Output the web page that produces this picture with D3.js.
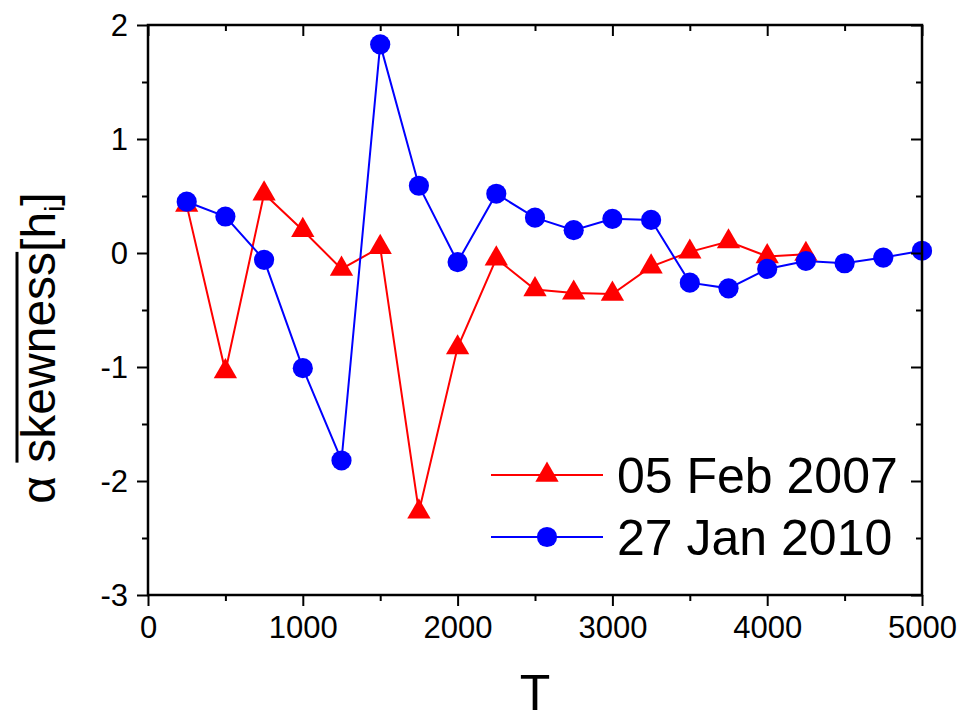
<!DOCTYPE html>
<html>
<head>
<meta charset="utf-8">
<script src="https://cdn.jsdelivr.net/npm/d3@7"></script>
<style>
  html, body { margin: 0; padding: 0; background: #fff; }
  svg { display: block; }
  text { font-family: "Liberation Sans", Arial, Helvetica, sans-serif; fill: #000; }
</style>
</head>
<body>
<svg id="chart" width="963" height="724"></svg>
<script>
// ---- data ----
const T2007 = [250, 500, 750, 1000, 1250, 1500, 1750, 2000, 2250, 2500, 2750, 3000, 3250, 3500, 3750, 4000, 4250];
const skew2007 = [0.42, -1.04, 0.52, 0.20, -0.14, 0.05, -2.27, -0.83, -0.05, -0.32, -0.35, -0.36, -0.12, 0.01, 0.10, -0.03, -0.01];
const T2010 = [250, 500, 750, 1000, 1250, 1500, 1750, 2000, 2250, 2500, 2750, 3000, 3250, 3500, 3750, 4000, 4250, 4500, 4750, 5000];
const skew2010 = [0.45, 0.32, -0.06, -1.01, -1.82, 1.83, 0.59, -0.08, 0.52, 0.31, 0.20, 0.30, 0.29, -0.26, -0.31, -0.14, -0.07, -0.09, -0.04, 0.02];
const seriesNames = ["05 Feb 2007", "27 Jan 2010"];
const xTicks = [0, 1000, 2000, 3000, 4000, 5000];
const xMinorTicks = [500, 1500, 2500, 3500, 4500];
const yTicks = [-3, -2, -1, 0, 1, 2];
const yMinorTicks = [-2.5, -1.5, -0.5, 0.5, 1.5];

// ---- layout ----
const svg = d3.select("#chart");
const L = 148, R = 922, Tp = 25, B = 595;
const x = d3.scaleLinear().domain([0, 5000]).range([L, R]);
const y = d3.scaleLinear().domain([-3, 2]).range([B, Tp]);
const majorLen = 11, minorLen = 6;
const axisW = 2.5;
const fmt = d => String(d); // plain hyphen-minus like the reference

// ---- series ----
const series = [
  { name: seriesNames[0], xs: T2007, ys: skew2007, color: "#ff0000", symbol: d3.symbolTriangle, size: 235 },
  { name: seriesNames[1], xs: T2010, ys: skew2010, color: "#0000ff", symbol: d3.symbolCircle, size: 320 }
];

const line = d3.line().x(d => x(d[0])).y(d => y(d[1]));

series.forEach(s => {
  const pts = s.xs.map((t, i) => [t, s.ys[i]]);
  svg.append("path").datum(pts)
    .attr("d", line).attr("fill", "none")
    .attr("stroke", s.color).attr("stroke-width", 2);
});
series.forEach(s => {
  const pts = s.xs.map((t, i) => [t, s.ys[i]]);
  svg.append("g").selectAll("path").data(pts).join("path")
    .attr("d", d3.symbol().type(s.symbol).size(s.size))
    .attr("transform", d => `translate(${x(d[0])},${y(d[1])})`)
    .attr("fill", s.color);
});

// ---- axes ----
const ax = svg.append("g");
const styleTicks = g => { g.select(".domain").remove(); g.selectAll("line").attr("stroke-width", 2); };
// bottom (outward ticks)
ax.append("g").attr("transform", `translate(0,${B})`)
  .call(d3.axisBottom(x).tickValues(xTicks).tickSize(majorLen).tickPadding(10).tickFormat(fmt))
  .call(styleTicks)
  .call(g => g.selectAll("text").style("font-size", "31px").attr("fill", "#000"));
ax.append("g").attr("transform", `translate(0,${B})`)
  .call(d3.axisBottom(x).tickValues(xMinorTicks).tickSize(minorLen).tickFormat(""))
  .call(styleTicks);
// top (inward ticks)
ax.append("g").attr("transform", `translate(0,${Tp})`)
  .call(d3.axisBottom(x).tickValues(xTicks).tickSize(majorLen).tickFormat(""))
  .call(styleTicks);
ax.append("g").attr("transform", `translate(0,${Tp})`)
  .call(d3.axisBottom(x).tickValues(xMinorTicks).tickSize(minorLen).tickFormat(""))
  .call(styleTicks);
// left (outward ticks)
ax.append("g").attr("transform", `translate(${L},0)`)
  .call(d3.axisLeft(y).tickValues(yTicks).tickSize(majorLen).tickPadding(9).tickFormat(fmt))
  .call(styleTicks)
  .call(g => g.selectAll("text").style("font-size", "31px").attr("fill", "#000").attr("dy", "0.34em"));
ax.append("g").attr("transform", `translate(${L},0)`)
  .call(d3.axisLeft(y).tickValues(yMinorTicks).tickSize(minorLen).tickFormat(""))
  .call(styleTicks);
// right (inward ticks)
ax.append("g").attr("transform", `translate(${R},0)`)
  .call(d3.axisLeft(y).tickValues(yTicks).tickSize(majorLen).tickFormat(""))
  .call(styleTicks);
ax.append("g").attr("transform", `translate(${R},0)`)
  .call(d3.axisLeft(y).tickValues(yMinorTicks).tickSize(minorLen).tickFormat(""))
  .call(styleTicks);
// frame
svg.append("rect").attr("x", L).attr("y", Tp).attr("width", R - L).attr("height", B - Tp)
  .attr("fill", "none").attr("stroke", "#000").attr("stroke-width", axisW);

// ---- axis titles ----
svg.append("text").attr("x", (L + R) / 2).attr("y", 710)
  .attr("text-anchor", "middle").style("font-size", "50px").text("T");

const yt = svg.append("g").attr("transform", "translate(55,348) rotate(-90)");
const fs = 48;
const pieces = [
  { t: "\u03b1\u00a0", size: fs, dy: 0 },
  { t: "skewness", size: fs, dy: 0, over: true },
  { t: "[h", size: fs, dy: 0 },
  { t: "i", size: 28, dy: 9 },
  { t: "]", size: fs, dy: 0 }
];
let cx = 0;
const nodes = pieces.map(p => {
  const el = yt.append("text").attr("x", cx).attr("y", p.dy).style("font-size", p.size + "px").text(p.t);
  const w = el.node().getComputedTextLength();
  const r = { el, x0: cx, w, p };
  cx += w;
  return r;
});
const total = cx;
nodes.forEach(n => {
  n.el.attr("x", n.x0 - total / 2);
  if (n.p.over) {
    yt.append("line")
      .attr("x1", n.x0 - total / 2).attr("x2", n.x0 - total / 2 + n.w)
      .attr("y1", -38).attr("y2", -38)
      .attr("stroke", "#000").attr("stroke-width", 3);
  }
});

// ---- legend ----
const lg = svg.append("g");
const legendRows = [475, 537];
series.forEach((s, i) => {
  const yy = legendRows[i];
  lg.append("line").attr("x1", 491).attr("x2", 603).attr("y1", yy).attr("y2", yy)
    .attr("stroke", s.color).attr("stroke-width", 2);
  lg.append("path").attr("d", d3.symbol().type(s.symbol).size(s.size)())
    .attr("transform", `translate(547,${yy})`).attr("fill", s.color);
  lg.append("text").attr("x", 617).attr("y", yy + 18).style("font-size", "50px").text(s.name);
});
</script>
</body>
</html>
